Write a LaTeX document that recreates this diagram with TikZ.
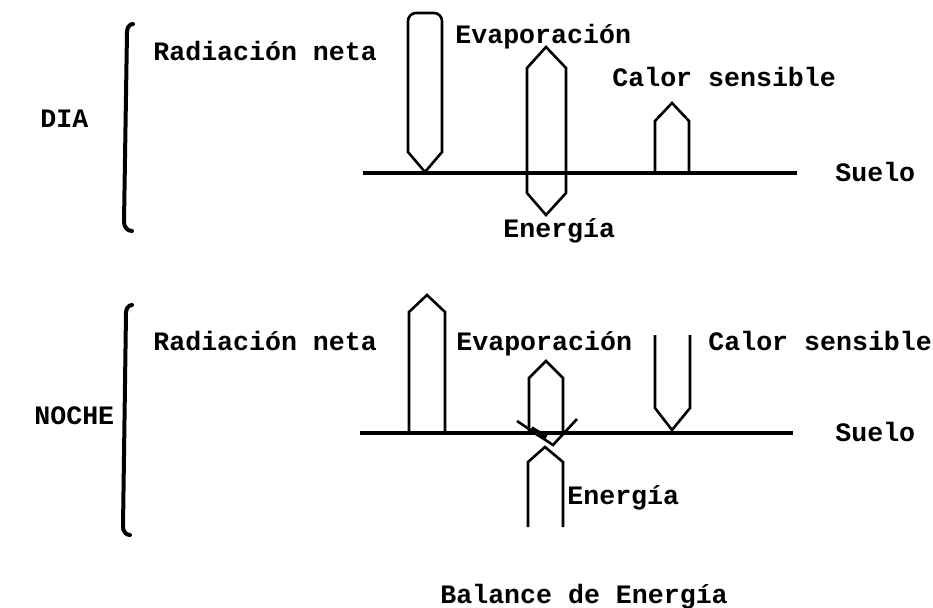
\documentclass[tikz,border=0pt]{standalone}
\usepackage{fontspec}
\setmonofont{Liberation Mono}
\usepackage{tikz}

\begin{document}
\begin{tikzpicture}[
  x=0.5pt, y=-0.5pt,
  font=\ttfamily\bfseries\fontsize{13.3}{16}\selectfont,
  lbl/.style={anchor=base west, inner sep=0pt},
  flecha/.style={draw=black, line width=1.3pt, line join=miter},
  suelo/.style={draw=black, line width=2pt},
  llave/.style={draw=black, line width=2pt, line cap=round}
]
\useasboundingbox (0,0) rectangle (933,607);

% Dia
\node[lbl] (dia) at (40,127) {DIA};
\node[lbl] (radDia) at (153,60) {Radiación neta};
\node[lbl] (evapDia) at (455,43) {Evaporación};
\node[lbl] (calDia) at (612,86) {Calor sensible};
\node[lbl] (sueloDia) at (835,181) {Suelo};
\node[lbl] (enDia) at (503,237) {Energía};

\draw[llave] (133,24) to[out=180,in=90] (127,32) -- (124,222) to[out=-90,in=180] (132,231);

\coordinate (sD0) at (363,173);
\coordinate (sD1) at (797,173);
\draw[suelo] (sD0) -- (sD1);

\draw[flecha] (425,172) -- (408,152) [rounded corners=4pt] -- (408,13) -- (442,13) [sharp corners] -- (442,152) -- cycle;
\draw[flecha] (546,47) -- (566,68) -- (566,193) -- (546,215) -- (527,193) -- (527,68) -- cycle;
\draw[flecha] (655,173) -- (655,121) -- (672,103) -- (689,121) -- (689,173);

% Noche
\node[lbl] (noche) at (34,424) {NOCHE};
\node[lbl] (radNoche) at (153,350) {Radiación neta};
\node[lbl] (evapNoche) at (456,350) {Evaporación};
\node[lbl] (calNoche) at (708,350) {Calor sensible};
\node[lbl] (sueloNoche) at (835,441) {Suelo};
\node[lbl] (enNoche) at (567,504) {Energía};

\draw[llave] (132,305) to[out=180,in=90] (126,313) -- (123,527) to[out=-90,in=180] (130,535);

\coordinate (sN0) at (360,433);
\coordinate (sN1) at (793,433);
\draw[suelo] (sN0) -- (sN1);

\draw[flecha] (409,433) -- (409,312) -- (427,295) -- (445,312) -- (445,433);
\draw[flecha] (529,433) -- (529,378) -- (546,361) -- (563,378) -- (563,433);
\draw[flecha] (528,527) -- (528,462) -- (545,447) -- (563,462) -- (563,527);
\draw[flecha] (655,335) -- (655,408) -- (672,430) -- (690,408) -- (690,335);

% tachon
\draw[flecha] (517,421) -- (553,445) -- (577,419);
\draw[line width=3pt] (531,429) -- (546,438);

\node[lbl] (titulo) at (440,603) {Balance de Energía};

\end{tikzpicture}
\end{document}
